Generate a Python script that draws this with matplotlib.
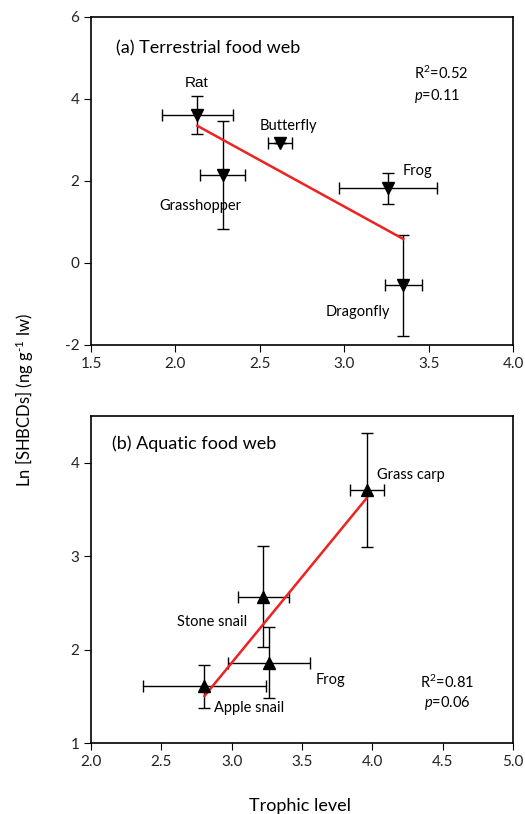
import numpy as np
import matplotlib
matplotlib.use('Agg')
import matplotlib.pyplot as plt

plt.rcParams['font.family'] = ['Lato', 'DejaVu Sans']
plt.rcParams['mathtext.fontset'] = 'custom'
plt.rcParams['mathtext.rm'] = 'Lato'
plt.rcParams['mathtext.it'] = 'Lato:italic'

# (a) terrestrial food web
a_names = ['Rat', 'Grasshopper', 'Butterfly', 'Frog', 'Dragonfly']
a_tl = np.array([2.13, 2.28, 2.62, 3.26, 3.35])
a_tl_err = np.array([0.21, 0.135, 0.073, 0.29, 0.11])
a_ln = np.array([3.61, 2.15, 2.92, 1.82, -0.54])
a_ln_err = np.array([0.46, 1.31, 0.0, 0.38, 1.23])

# (b) aquatic food web
b_names = ['Grass carp', 'Stone snail', 'Frog', 'Apple snail']
b_tl = np.array([3.96, 3.226, 3.267, 2.807])
b_tl_err = np.array([0.12, 0.18, 0.29, 0.435])
b_ln = np.array([3.71, 2.567, 1.86, 1.61])
b_ln_err = np.array([0.61, 0.54, 0.38, 0.23])

fig = plt.figure(figsize=(5.25, 8.14), dpi=100)
ax1 = fig.add_axes([0.1733, 0.5762, 0.8038, 0.403])
ax2 = fig.add_axes([0.1733, 0.0872, 0.8038, 0.4017])


def style(ax):
    ax.tick_params(direction='out', length=5, labelsize=11, top=False, right=False,
                   labelcolor='#222222')
    for s in ax.spines.values():
        s.set_linewidth(1.2)


# panel a
ax1.errorbar(a_tl, a_ln, xerr=a_tl_err, yerr=a_ln_err, fmt='v', color='black',
             ms=8, ecolor='black', elinewidth=1, capsize=4, capthick=1)
k, b = np.polyfit(a_tl, a_ln, 1)
xx = np.array([a_tl.min(), a_tl.max()])
ax1.plot(xx, k * xx + b, color='#ee2222', lw=1.8)
ax1.set_xlim(1.5, 4.0)
ax1.set_ylim(-2, 6)
ax1.set_xticks([1.5, 2.0, 2.5, 3.0, 3.5, 4.0])
ax1.set_yticks([-2, 0, 2, 4, 6])
ax1.set_yticklabels(['-2', '0', '2', '4', '6'])
style(ax1)
ax1.text(1.648, 5.24, '(a) Terrestrial food web', fontsize=13, va='center')
ax1.text(3.416, 4.63, r'R$^2$=0.52', fontsize=10.5, va='center')
ax1.text(3.416, 4.08, r'$p$=0.11', fontsize=10.5, va='center')
ax1.text(2.126, 4.38, 'Rat', fontsize=11, ha='center', va='center', family='Liberation Sans')
ax1.text(2.67, 3.34, 'Butterfly', fontsize=10.5, ha='center', va='center')
ax1.text(2.146, 1.40, 'Grasshopper', fontsize=10.5, ha='center', va='center')
ax1.text(3.347, 2.24, 'Frog', fontsize=10.5, ha='left', va='center')
ax1.text(3.08, -1.19, 'Dragonfly', fontsize=10.5, ha='center', va='center')

# panel b
ax2.errorbar(b_tl, b_ln, xerr=b_tl_err, yerr=b_ln_err, fmt='^', color='black',
             ms=8, ecolor='black', elinewidth=1, capsize=4, capthick=1)
k, b = np.polyfit(b_tl, b_ln, 1)
xx = np.array([b_tl.min(), b_tl.max()])
ax2.plot(xx, k * xx + b, color='#ee2222', lw=1.8)
ax2.set_xlim(2.0, 5.0)
ax2.set_ylim(1, 4.5)
ax2.set_xticks([2.0, 2.5, 3.0, 3.5, 4.0, 4.5, 5.0])
ax2.set_xticklabels(['2.0', '2.5', '3.0', '3.5', '4.0', '4.5', '5.0'])
ax2.set_yticks([1, 2, 3, 4])
style(ax2)
ax2.text(2.147, 4.2, '(b) Aquatic food web', fontsize=13, va='center')
ax2.text(4.033, 3.87, 'Grass carp', fontsize=10.5, ha='left', va='center')
ax2.text(2.859, 2.295, 'Stone snail', fontsize=10.5, ha='center', va='center')
ax2.text(3.60, 1.67, 'Frog', fontsize=10.5, ha='left', va='center')
ax2.text(2.878, 1.37, 'Apple snail', fontsize=10.5, ha='left', va='center')
ax2.text(4.337, 1.65, r'R$^2$=0.81', fontsize=10.5, va='center')
ax2.text(4.37, 1.43, r'$p$=0.06', fontsize=10.5, va='center')

fig.text(0.048, 1 - 400 / 814, r'Ln [SHBCDs] (ng g$^{\text{-1}}$ lw)', rotation=90,
         fontsize=12, ha='center', va='center')
fig.text(0.571, 1 - 806 / 814, 'Trophic level', fontsize=13, ha='center', va='center')

fig.savefig('out.png', dpi=100)
